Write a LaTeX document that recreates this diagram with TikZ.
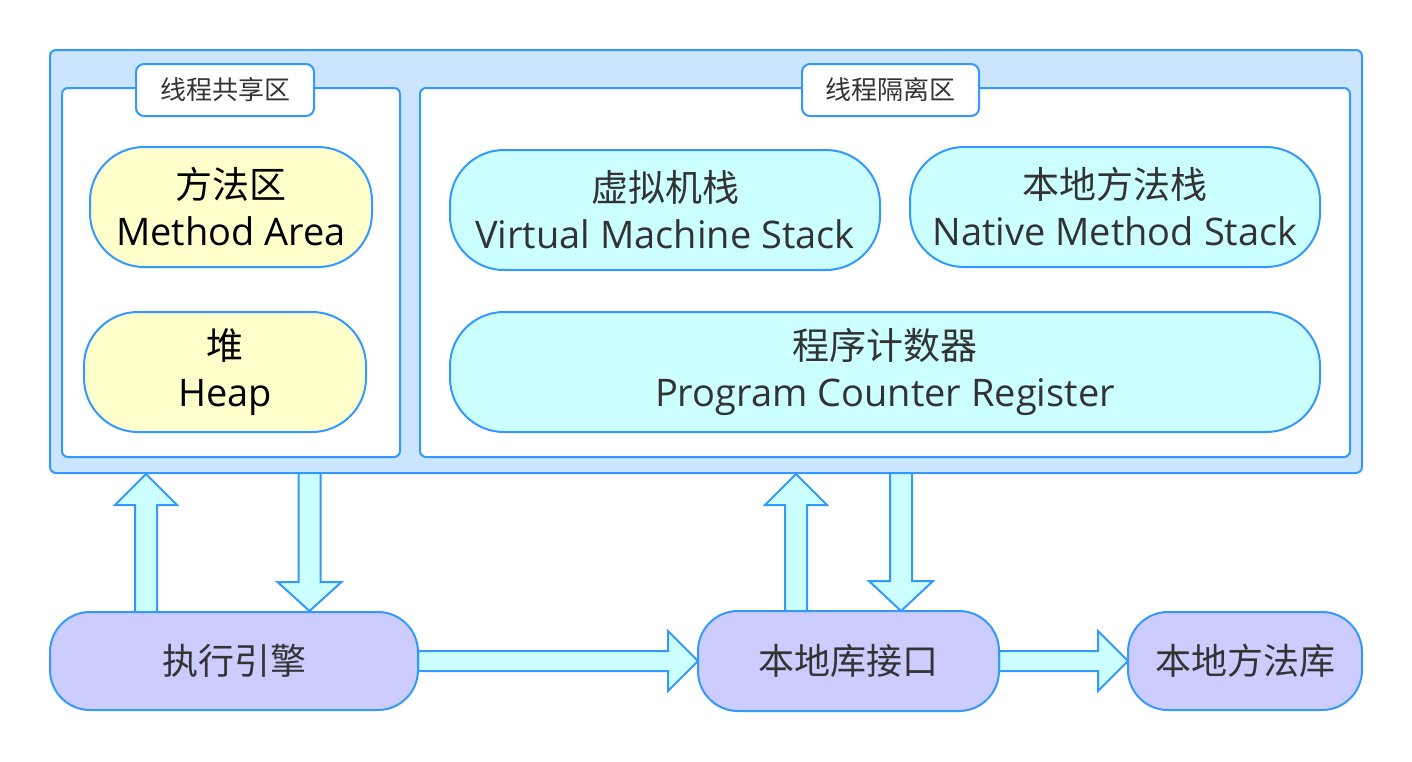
\documentclass[tikz,border=0pt]{standalone}
\usepackage{fontspec}
\setmainfont{Open Sans}
\newfontfamily\cjk{Noto Sans CJK SC}
\definecolor{edgeblue}{HTML}{3399FF}
\definecolor{jvmfill}{HTML}{CCE5FF}
\definecolor{yellowfill}{HTML}{FFFFCC}
\definecolor{cyanfill}{HTML}{CCFFFF}
\definecolor{purplefill}{HTML}{CCCCFF}
\definecolor{txt}{HTML}{333333}
\newcommand{\UpBlk}[4]{% cx, tip y, head base y, bottom y
  \draw[blockarrow] (#1-11,#4) -- (#1-11,#3) -- (#1-31,#3) -- (#1,#2) -- (#1+31,#3) -- (#1+11,#3) -- (#1+11,#4) -- cycle;}
\newcommand{\DnBlk}[4]{% cx, top y, head base y, tip y
  \draw[blockarrow] (#1-11,#2) -- (#1-11,#3) -- (#1-32,#3) -- (#1,#4) -- (#1+32,#3) -- (#1+11,#3) -- (#1+11,#2) -- cycle;}
\newcommand{\RtBlk}[4]{% cy, start x, head base x, tip x
  \draw[blockarrow] (#2,#1-10) -- (#3,#1-10) -- (#3,#1-30) -- (#4,#1) -- (#3,#1+30) -- (#3,#1+10) -- (#2,#1+10) -- cycle;}
\newcommand{\twolines}[2]{{\cjk\fontsize{18.5}{23}\selectfont #1}\\[0.5pt]{\fontsize{19}{23}\selectfont #2}}
\begin{document}
\begin{tikzpicture}[x=0.5pt,y=-0.5pt,
  base/.style={draw=edgeblue,line width=1pt,inner sep=0pt,outer sep=0pt,align=center},
  container/.style={base,fill=jvmfill,rounded corners=3pt},
  region/.style={base,fill=white,rounded corners=3pt},
  tag/.style={base,fill=white,rounded corners=4pt,text=txt,font=\cjk\fontsize{13}{15}\selectfont},
  pill/.style={base,rounded corners=27pt,font=\fontsize{19}{23}\selectfont},
  yellowpill/.style={pill,fill=yellowfill,text=black},
  cyanpill/.style={pill,fill=cyanfill,text=txt},
  engine/.style={base,rounded corners=20pt,fill=purplefill,text=txt,font=\cjk\fontsize{18}{22}\selectfont},
  blockarrow/.style={draw=edgeblue,line width=1pt,fill=cyanfill,line join=miter}
]
\useasboundingbox (0,0) rectangle (1412,761);
\fill[white] (0,0) rectangle (1412,761);

% container
\node[container,minimum width=656pt,minimum height=211.5pt] (jvm) at (706,261.5) {};
\node[region,minimum width=169pt,minimum height=184.5pt] (shared) at (231,272.5) {};
\node[region,minimum width=465pt,minimum height=184.5pt] (isolated) at (885,272.5) {};
\node[tag,minimum width=89pt,minimum height=26pt] (sharedtag) at (225,90) {线程共享区};
\node[tag,minimum width=88.5pt,minimum height=26pt] (isotag) at (890.5,90) {线程隔离区};

% memory areas
\node[yellowpill,minimum width=141pt,minimum height=60pt] (method) at (231,207) {\twolines{方法区}{Method Area}};
\node[yellowpill,minimum width=141pt,minimum height=60pt] (heap) at (225,372) {\twolines{堆}{Heap}};
\node[cyanpill,minimum width=215pt,minimum height=60pt] (vms) at (665,210) {\twolines{虚拟机栈}{Virtual Machine Stack}};
\node[cyanpill,minimum width=205pt,minimum height=60pt] (nms) at (1115,207) {\twolines{本地方法栈}{Native Method Stack}};
\node[cyanpill,minimum width=435pt,minimum height=60pt] (pc) at (885,372) {\twolines{程序计数器}{Program Counter Register}};

% block arrows
\UpBlk{146}{474}{505}{612}
\DnBlk{309.5}{473}{582}{611}
\UpBlk{796}{474}{505}{611}
\DnBlk{901}{473}{581}{611}
\RtBlk{661}{418}{668}{698}
\RtBlk{661}{999}{1098}{1128}

% bottom nodes
\node[engine,minimum width=184pt,minimum height=49pt] (exec) at (234,661) {执行引擎};
\node[engine,minimum width=150.5pt,minimum height=50pt] (nli) at (848.5,661) {本地库接口};
\node[engine,minimum width=117pt,minimum height=49pt] (nml) at (1245,661) {本地方法库};
\end{tikzpicture}
\end{document}
